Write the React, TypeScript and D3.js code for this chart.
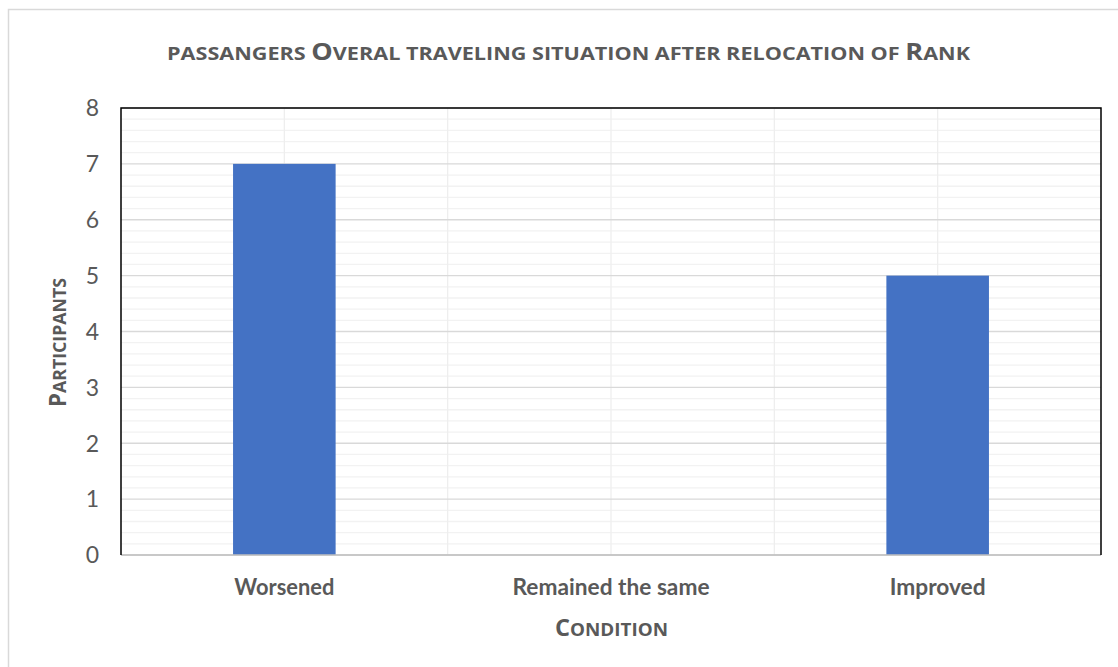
import React from "react";
import * as d3 from "d3";

const categories = ["Worsened", "Remained the same", "Improved"];
const participants = [7, 0, 5];
const yTickValues = [0, 1, 2, 3, 4, 5, 6, 7, 8];
const titleText = "passangers Overal traveling situation after relocation of Rank";
const xTitleText = "Condition";
const yTitleText = "Participants";

const W = 1118;
const H = 667;
const plot = { left: 121, right: 1101, top: 108, bottom: 555 };
const textColor = "#595959";
const font = "Lato, 'Open Sans', sans-serif";
const titleFont = "'Open Sans', Lato, sans-serif";
const labelWidths: Record<string, number> = { Worsened: 100, "Remained the same": 197, Improved: 96 };

function smallCaps(text: string, big: number) {
  const runs: { t: string; up: boolean }[] = [];
  for (const ch of text) {
    const up = ch !== " " && ch === ch.toUpperCase() && ch !== ch.toLowerCase();
    const isSpace = ch === " ";
    const last = runs[runs.length - 1];
    const kind = isSpace ? (last ? last.up : false) : up;
    if (last && last.up === kind) last.t += ch;
    else runs.push({ t: ch, up: kind });
  }
  return runs.map((r, i) => (
    <tspan key={i} fontSize={r.up ? big : big * 0.8}>
      {r.t.toUpperCase()}
    </tspan>
  ));
}

export default function App() {
  const x = d3
    .scaleBand<string>()
    .domain(categories)
    .range([plot.left, plot.right])
    .paddingInner(0.686)
    .paddingOuter(0.343);
  const y = d3.scaleLinear().domain([0, 8]).range([plot.bottom, plot.top]);
  const step = x.step();
  const minor = d3.range(0, 40).map((i) => i / 5).filter((v) => Math.abs(v - Math.round(v)) > 1e-6);
  const vLines: number[] = [];
  categories.forEach((c, i) => {
    vLines.push(plot.left + i * step + step / 2);
    if (i > 0) vLines.push(plot.left + i * step);
  });

  return (
    <svg
      width={W}
      height={H}
      style={{ position: "absolute", left: 0, top: 0, background: "#fff" }}
      fontFamily={font}
    >
      <rect x={0} y={0} width={W} height={H} fill="#fff" />
      <rect x={8.5} y={9.5} width={W + 100} height={H + 100} fill="#fff" stroke="#d9d9d9" strokeWidth={1.5} />

      {minor.map((v) => (
        <line key={"m" + v} x1={plot.left} x2={plot.right} y1={y(v)} y2={y(v)} stroke="#f2f2f2" strokeWidth={1.3} />
      ))}
      {vLines.map((v) => (
        <line key={"v" + v} x1={v} x2={v} y1={plot.top} y2={plot.bottom} stroke="#eeeeee" strokeWidth={1.3} />
      ))}
      {yTickValues.map((v) => (
        <line key={"g" + v} x1={plot.left} x2={plot.right} y1={y(v)} y2={y(v)} stroke="#d9d9d9" strokeWidth={1.3} />
      ))}

      {categories.map((c, i) => (
        <rect
          key={c}
          x={x(c)}
          y={y(participants[i])}
          width={x.bandwidth()}
          height={y(0) - y(participants[i])}
          fill="#4472C4"
        />
      ))}

      <line x1={plot.left} x2={plot.right} y1={plot.bottom} y2={plot.bottom} stroke="#bfbfbf" strokeWidth={1.5} />
      <path
        d={`M${plot.left},${plot.bottom} V${plot.top} H${plot.right} V${plot.bottom}`}
        fill="none"
        stroke="#000"
        strokeWidth={1.5}
      />

      {yTickValues.map((v) => (
        <text key={"t" + v} x={99} y={y(v)} dy="0.36em" textAnchor="end" fontSize={23} fill={textColor}>
          {v}
        </text>
      ))}

      {categories.map((c) => (
        <text
          key={"c" + c}
          x={(x(c) as number) + x.bandwidth() / 2}
          y={595}
          textAnchor="middle"
          fontSize={23}
          fontWeight="bold"
          fill={textColor}
          textLength={labelWidths[c]}
          lengthAdjust="spacingAndGlyphs"
        >
          {c}
        </text>
      ))}

      <text x={568.5} y={60} textAnchor="middle" fontFamily={titleFont} fontWeight="bold" fill={textColor} textLength={803} lengthAdjust="spacingAndGlyphs">
        {smallCaps(titleText, 22.5)}
      </text>
      <text x={611.5} y={636} textAnchor="middle" fontFamily={titleFont} fontWeight="bold" fill={textColor} textLength={113} lengthAdjust="spacingAndGlyphs">
        {smallCaps(xTitleText, 23)}
      </text>
      <text
        transform={`translate(66,342.5) rotate(-90)`}
        textAnchor="middle"
        fontFamily={titleFont}
        fontWeight="bold"
        fill={textColor}
        textLength={129}
        lengthAdjust="spacingAndGlyphs"
      >
        {smallCaps(yTitleText, 23)}
      </text>
    </svg>
  );
}
